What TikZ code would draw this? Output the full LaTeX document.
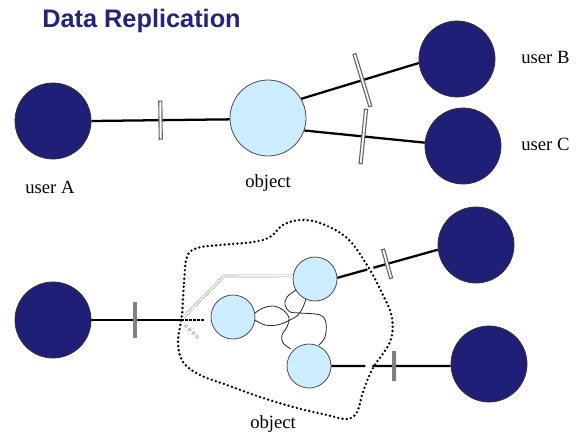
\documentclass[tikz,border=0pt]{standalone}
\usepackage{fontspec}
\setmainfont{Liberation Serif}
\newfontfamily\titlefont{Liberation Sans}
\usetikzlibrary{calc}
\definecolor{navy}{RGB}{31,31,119}
\definecolor{titleblue}{RGB}{36,36,122}
\definecolor{objblue}{RGB}{204,236,255}
\begin{document}
\begin{tikzpicture}[x=0.75pt,y=-0.75pt,
  user/.style={circle, draw=black!80, line width=0.6pt, fill=navy, minimum size=57pt, inner sep=0pt},
  objc/.style={circle, draw=black!70, line width=0.6pt, fill=objblue, minimum size=57pt, inner sep=0pt},
  innerc/.style={objc, minimum size=33pt},
  conn/.style={line width=1.7pt, black},
  dtick/.style={rectangle, draw=black!60, fill=white, line width=0.85pt, minimum width=2.3pt, inner sep=0pt, sloped},
  stick/.style={rectangle, fill=black!50, minimum width=3pt, inner sep=0pt, sloped},
  lbl/.style={anchor=base west, inner sep=0pt, font=\fontsize{14}{16}\selectfont},
  knot/.style={line width=0.6pt, black!85},
  blob/.style={line width=2pt, dash pattern=on 0pt off 3.2pt, line cap=round},
  gline/.style={draw=black!35, double=white, double distance=1.1pt, line width=0.45pt},
  gdot/.style={draw=black!35, line width=0.4pt, fill=white}
]
\useasboundingbox (0,0) rectangle (578,433);

% title
\node[anchor=base west, inner sep=0pt, text=titleblue, font=\titlefont\bfseries\fontsize{19}{22}\selectfont] (title) at (42,27) {Data Replication};

% ---------- top diagram ----------
\node[user] (A) at (53,121) {};
\node[objc] (O) at (268,118) {};
\node[user] (B) at (457,59) {};
\node[user] (C) at (463,146) {};

\node[lbl] (lA) at (25,193) {user A};
\node[lbl] (lO) at (245,187) {object};
\node[lbl] (lB) at (521,63) {user B};
\node[lbl] (lC) at (521,150) {user C};

\draw[conn] (A.east) -- node[dtick, pos=0.5, minimum height=28.5pt] (tA) {} (O.182);
\draw[conn] (O.30) -- node[dtick, pos=0.52, minimum height=41pt] (tB) {} (B.186.5);
\draw[conn] (O.-19) -- node[dtick, pos=0.49, minimum height=41pt] (tC) {} (C.175.5);

% ---------- bottom diagram ----------
\draw[blob] plot[smooth cycle, tension=0.6] coordinates {
  (182,315) (184,283) (187,257) (197,248) (220,245) (253,242) (270,237) (283,225)
  (300,220) (320,223) (347,238) (367,265) (383,295) (392,318) (390,342) (373,368)
  (363,392) (357,412) (347,419) (327,415) (297,408) (263,398) (227,385) (200,375)
  (183,362) (178,342)};

\node[user] (A2) at (53,320) {};
\node[innerc] (L) at (233,317) {};
\node[innerc] (T) at (315,279) {};
\node[innerc] (D) at (309,366) {};
\node[user] (UR) at (476,245) {};
\node[user] (BR) at (489,364) {};

\node[lbl] (lO2) at (250,428) {object};

% connector from user A2
\coordinate (Acr) at (181,320);
\coordinate (Aend) at (204,320);
\draw[conn] (A2.east) -- node[stick, pos=0.49, minimum height=27pt] (tA2) {} (Acr);
\draw[conn, dash pattern=on 2pt off 1pt] (Acr) -- (Aend);

% connectors to the right users (with gaps at the boundary)
\draw[conn, dash pattern=on 23.4pt off 4.7pt on 200pt] (T.3) -- (UR.187);
\path (T.3) -- node[dtick, pos=0.495, minimum height=22.5pt] (tUR) {} (UR.187);
\draw[conn, dash pattern=on 25.5pt off 5.25pt on 200pt] (D.east) -- (BR.183);
\path (D.east) -- node[stick, pos=0.525, minimum height=22.5pt] (tBR) {} (BR.183);

% grey double line
\coordinate (gbend) at (224,276);
\coordinate (gend) at (183,318);
\draw[gline] (T.172) -- (gbend) -- (gend);
\foreach \i in {0,...,3}{
  \draw[gdot] ($(186,326)!\i/3!(197,337)$) circle (1.5);
}

% curvy links between the inner replicas
\draw[knot] plot[smooth, tension=0.6] coordinates {(255,313) (263,308) (273,306) (283,310) (289,318) (287,327) (282,335) (283,343) (291,349)};
\draw[knot] plot[smooth, tension=0.6] coordinates {(255,320) (265,325) (277,325) (288,321) (298,315) (303,307) (306,299)};
\draw[knot] plot[smooth, tension=0.6] coordinates {(296,290) (287,297) (285,305) (290,312) (300,313) (320,315) (326,323) (325,337) (319,345)};

\end{tikzpicture}
\end{document}
